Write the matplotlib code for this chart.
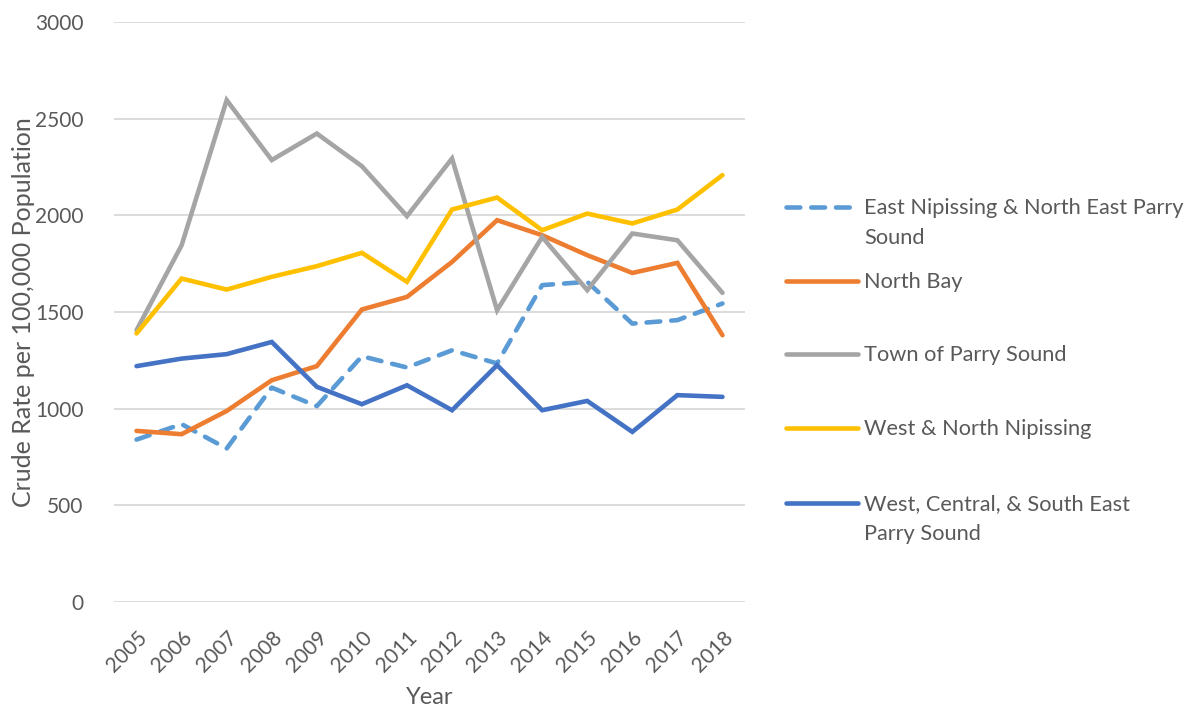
import matplotlib
matplotlib.use("Agg")
import matplotlib.pyplot as plt
from matplotlib.lines import Line2D

years = ["2005", "2006", "2007", "2008", "2009", "2010", "2011",
         "2012", "2013", "2014", "2015", "2016", "2017", "2018"]

east_nipissing = [840, 920, 794, 1109, 1013, 1271, 1213, 1302, 1234, 1639, 1656, 1440, 1458, 1544]
north_bay = [885, 868, 988, 1147, 1220, 1513, 1578, 1759, 1975, 1897, 1794, 1702, 1754, 1380]
town_parry = [1406, 1845, 2596, 2286, 2423, 2254, 1996, 2294, 1509, 1888, 1613, 1906, 1871, 1599]
west_north_nip = [1389, 1673, 1616, 1682, 1737, 1806, 1656, 2030, 2092, 1923, 2009, 1958, 2030, 2208]
west_central = [1220, 1259, 1282, 1345, 1113, 1023, 1121, 992, 1225, 992, 1040, 880, 1070, 1061]

series_names = ["East Nipissing & North East Parry\nSound", "North Bay",
                "Town of Parry Sound", "West & North Nipissing",
                "West, Central, & South East\nParry Sound"]
y_ticks = [0, 500, 1000, 1500, 2000, 2500, 3000]

plt.rcParams['font.family'] = ['Lato', 'DejaVu Sans']
TXT = '#595959'

fig = plt.figure(figsize=(11.92, 7.09), dpi=100)
W, H = 1192, 709
ax = fig.add_axes([114 / W, 1 - 602 / H, (745 - 114) / W, (602 - 22) / H])

x = list(range(len(years)))
lw = 3.3
styles = [
    dict(color='#5B9BD5', ls=(0, (3.0, 2.4)), dash_capstyle='round'),
    dict(color='#ED7D31', ls='-'),
    dict(color='#A5A5A5', ls='-'),
    dict(color='#FFC000', ls='-'),
    dict(color='#4472C4', ls='-'),
]
data = [east_nipissing, north_bay, town_parry, west_north_nip, west_central]
for vals, st in zip(data, styles):
    ax.plot(x, vals, lw=lw, solid_joinstyle='miter', solid_capstyle='round', **st)

ax.set_xlim(-0.5, len(years) - 0.5)
ax.set_ylim(0, 3000)
ax.set_yticks(y_ticks)
ax.set_yticklabels([str(v) for v in y_ticks])
ax.set_xticks(x)
ax.set_xticklabels(years, rotation=45, ha='right', rotation_mode='anchor')
ax.grid(axis='y', color='#D9D9D9', lw=1.3)
ax.set_axisbelow(True)
for s in ax.spines.values():
    s.set_visible(False)
ax.tick_params(axis='both', length=0, colors=TXT, labelsize=15)
ax.tick_params(axis='y', pad=22)
ax.tick_params(axis='x', pad=18)
ax.set_ylabel('Crude Rate per 100,000 Population', fontsize=18, color=TXT, labelpad=0)
ax.set_xlabel('Year', fontsize=17, color=TXT, labelpad=8)

# legend (manual, to match layout)
leg_y = [207, 281, 354, 428, 503]
for name, st, yy in zip(series_names, styles, leg_y):
    fy = 1 - yy / H
    fig.add_artist(Line2D([786 / W, 858 / W], [fy, fy], lw=lw, transform=fig.transFigure,
                          solid_capstyle='round', **st))
    fig.text(864 / W, 1 - (yy - 9) / H, name, fontsize=15.7, color=TXT, va='top',
             ha='left', linespacing=1.65)

fig.savefig('out.png', dpi=100)
